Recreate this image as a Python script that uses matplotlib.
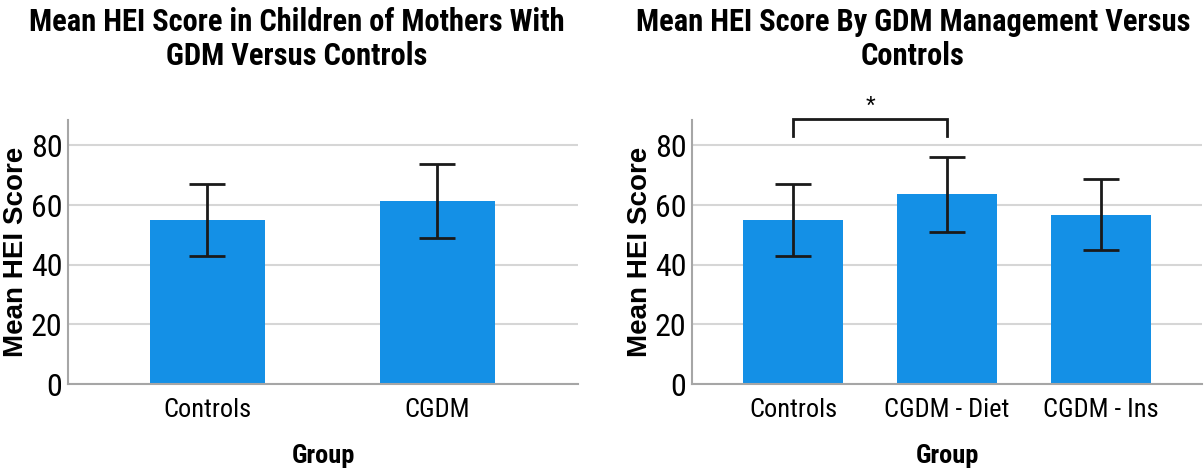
import matplotlib
matplotlib.use("Agg")
import matplotlib.pyplot as plt
from matplotlib import font_manager

# Data: mean HEI score and error (±) per group
groups_a = ["Controls", "CGDM"]
means_a = [55.0, 61.4]
errs_a = [12.0, 12.4]

groups_b = ["Controls", "CGDM - Diet", "CGDM - Ins"]
means_b = [55.0, 63.6, 56.7]
errs_b = [12.0, 12.5, 11.9]

yticks = [0, 20, 40, 60, 80]
title_a = "Mean HEI Score in Children of Mothers With\nGDM Versus Controls"
title_b = "Mean HEI Score By GDM Management Versus\nControls"
sig_pair = (0, 1)
sig_label = "*"

available = {f.name for f in font_manager.fontManager.ttflist}


def pick(*cands):
    for c in cands:
        if c in available:
            return c
    return "DejaVu Sans"


narrow = pick("Liberation Sans Narrow", "Roboto Condensed", "Archivo Narrow", "Liberation Sans")
wide = pick("Liberation Sans", "Roboto")

BAR = "#1490e6"
GRID = "#d6d6d6"
SPINE = "#a6a6a6"

fig = plt.figure(figsize=(12.04, 4.72), dpi=100)
W, H = 1204, 472


def axes_px(x0, x1, ybot, ytop):
    return fig.add_axes([x0 / W, 1 - ybot / H, (x1 - x0) / W, (ybot - ytop) / H])


def style(ax, cats, xlim):
    ax.set_ylim(0, 88.5)
    ax.set_xlim(*xlim)
    ax.set_yticks(yticks)
    ax.set_yticklabels([str(t) for t in yticks], family=narrow, fontsize=23)
    ax.set_xticks(range(len(cats)))
    ax.set_xticklabels(cats, family=narrow, fontsize=19)
    ax.tick_params(axis="y", length=0, pad=4)
    ax.tick_params(axis="x", length=0, pad=10)
    for s in ("top", "right"):
        ax.spines[s].set_visible(False)
    for s in ("left", "bottom"):
        ax.spines[s].set_color(SPINE)
        ax.spines[s].set_linewidth(1.5)
    ax.yaxis.grid(True, color=GRID, linewidth=1.5)
    ax.set_axisbelow(True)
    ax.set_ylabel("Mean HEI Score", family=wide, fontweight="bold", fontsize=20, labelpad=1)
    ax.set_xlabel("Group", family=narrow, fontweight="bold", fontsize=19, labelpad=16)


ax1 = axes_px(68, 578, 384, 120)
x1 = list(range(len(groups_a)))
ax1.bar(x1, means_a, width=0.5, color=BAR, zorder=2)
ax1.errorbar(x1, means_a, yerr=errs_a, fmt="none", ecolor="#1a1a1a",
             elinewidth=2, capsize=13, capthick=2, zorder=3)
style(ax1, groups_a, (-0.605, 1.613))

ax2 = axes_px(692, 1202, 384, 120)
x2 = list(range(len(groups_b)))
ax2.bar(x2, means_b, width=0.65, color=BAR, zorder=2)
ax2.errorbar(x2, means_b, yerr=errs_b, fmt="none", ecolor="#1a1a1a",
             elinewidth=2, capsize=13, capthick=2, zorder=3)
style(ax2, groups_b, (-0.66, 2.66))

# significance bracket between the first two groups
i, j = sig_pair
ax2.plot([i, i, j, j], [83.3, 89.0, 89.0, 83.3], color="#1a1a1a", lw=2,
         clip_on=False, solid_joinstyle="miter")
ax2.text((i + j) / 2, 93.0, sig_label, ha="center", va="center",
         fontsize=18, family=wide, clip_on=False)

fig.text(297 / W, 1 - 39 / H, title_a, ha="center", va="center",
         family=narrow, fontweight="bold", fontsize=22, linespacing=1.16)
fig.text(913 / W, 1 - 39 / H, title_b, ha="center", va="center",
         family=narrow, fontweight="bold", fontsize=22, linespacing=1.16)

fig.savefig("out.png", dpi=100)
